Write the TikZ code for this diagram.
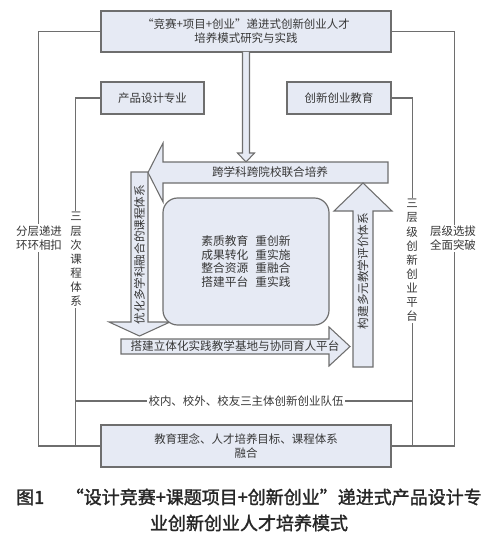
\documentclass[tikz,border=0pt]{standalone}
\usepackage{fontspec}
\setmainfont{Noto Sans CJK SC}
\newfontfamily\capfont{Noto Sans CJK SC}[FakeBold=1.6]
\definecolor{boxfill}{RGB}{230,234,244}
\definecolor{edge}{RGB}{110,110,110}
\definecolor{ink}{RGB}{55,55,55}
\tikzset{
  box/.style={draw=edge, fill=boxfill, line width=0.9pt, inner sep=0pt, text=ink, align=center, font=\fontsize{8.6}{10.5}\selectfont},
  flow/.style={draw=edge, fill=boxfill, line width=0.8pt, line join=miter},
  wire/.style={draw=edge, line width=0.9pt},
  lbl/.style={fill=white, inner sep=1pt, text=ink, align=center, font=\fontsize{8.6}{10.6}\selectfont},
  flowtext/.style={inner sep=0pt, text=ink, font=\fontsize{8.7}{10.5}\selectfont},
}
\begin{document}
\begin{tikzpicture}[x=0.75pt,y=0.75pt,yscale=-1,xscale=1]
\useasboundingbox (0,0) rectangle (500,535);

% Boxes
\node[box, minimum width=217.5pt, minimum height=30.75pt] (title) at (246,31.5) {“竞赛+项目+创业”递进式创新创业人才\\培养模式研究与实践};
\node[box, minimum width=77.25pt, minimum height=24pt] (major) at (152.5,98) {产品设计专业};
\node[box, minimum width=78pt, minimum height=24pt] (edu) at (339,98) {创新创业教育};
\node[box, minimum width=217.5pt, minimum height=31.5pt] (fuse) at (246,446) {教育理念、人才培养目标、课程体系\\融合};

%Straight Lines
\draw[wire] (title.west) -- ++(-62,0) |- (fuse.west);
\draw[wire] (title.east) -- ++(63,0) |- (fuse.east);
\draw[wire] (major.west) -- ++(-25,0) |- (fuse.west);
\draw[wire] (edu.east) -- ++(21,0) |- (fuse.east);
\coordinate (teamL) at (76,401);
\coordinate (teamR) at (412,401);
\draw[wire] (teamL) -- (teamR);

% Hollow arrows
\draw[flow] (242.5,52) -- (242.5,153) -- (237.5,153) -- (246,162) -- (254.5,153) -- (249.5,153) -- (249.5,52);
\draw[flow] (388,162) -- (163,162) -- (163,143) -- (148,172.5) -- (163,202) -- (163,183) -- (388,183) -- cycle;
\draw[flow] (131,172) -- (148,172) -- (148,322) -- (170,322) -- (139.5,336) -- (109,322) -- (131,322) -- cycle;
\draw[flow] (121,339) -- (329,339) -- (329,327) -- (350,346.5) -- (329,366) -- (329,354) -- (121,354) -- cycle;
\draw[flow] (353,367) -- (353,211) -- (334,211) -- (363,183) -- (392,211) -- (373,211) -- (373,367) -- cycle;

% Core box
\node[box, rounded corners=11pt, minimum width=124.5pt, minimum height=95.25pt, font=\fontsize{8.8}{10.3}\selectfont] (core) at (246,261.5) {素质教育\hspace{0.6em}重创新\\成果转化\hspace{0.6em}重实施\\整合资源\hspace{0.6em}重融合\\搭建平台\hspace{0.6em}重实践};

% Text Node
\node[flowtext] (cross) at (270,172.5) {跨学科跨院校联合培养};
\node[flowtext, rotate=90] (course) at (139.5,254.5) {优化多学科融合的课程体系};
\node[flowtext] (base) at (235,346.5) {搭建立体化实践教学基地与协同育人平台};
\node[flowtext, rotate=90] (assess) at (363,271) {构建多元教学评价体系};

% Text Node
\node[lbl] (team) at (246,401) {校内、校外、校友三主体创新创业队伍};
\node[lbl] (layer) at (39,238) {分层递进\\环环相扣};
\node[lbl] (tier) at (76,259.5) {三\\层\\次\\课\\程\\体\\系};
\node[lbl] (plat) at (412,260.5) {三\\层\\级\\创\\新\\创\\业\\平\\台};
\node[lbl] (pick) at (453,238.5) {层级选拔\\全面突破};

% Caption
\node[align=center, text=black!85, font=\capfont\fontsize{13.5}{19.5}\selectfont] (cap) at (249,510) {图1\hspace{1.2em}“设计竞赛+课题项目+创新创业”递进式产品设计专\\业创新创业人才培养模式};

\end{tikzpicture}
\end{document}
